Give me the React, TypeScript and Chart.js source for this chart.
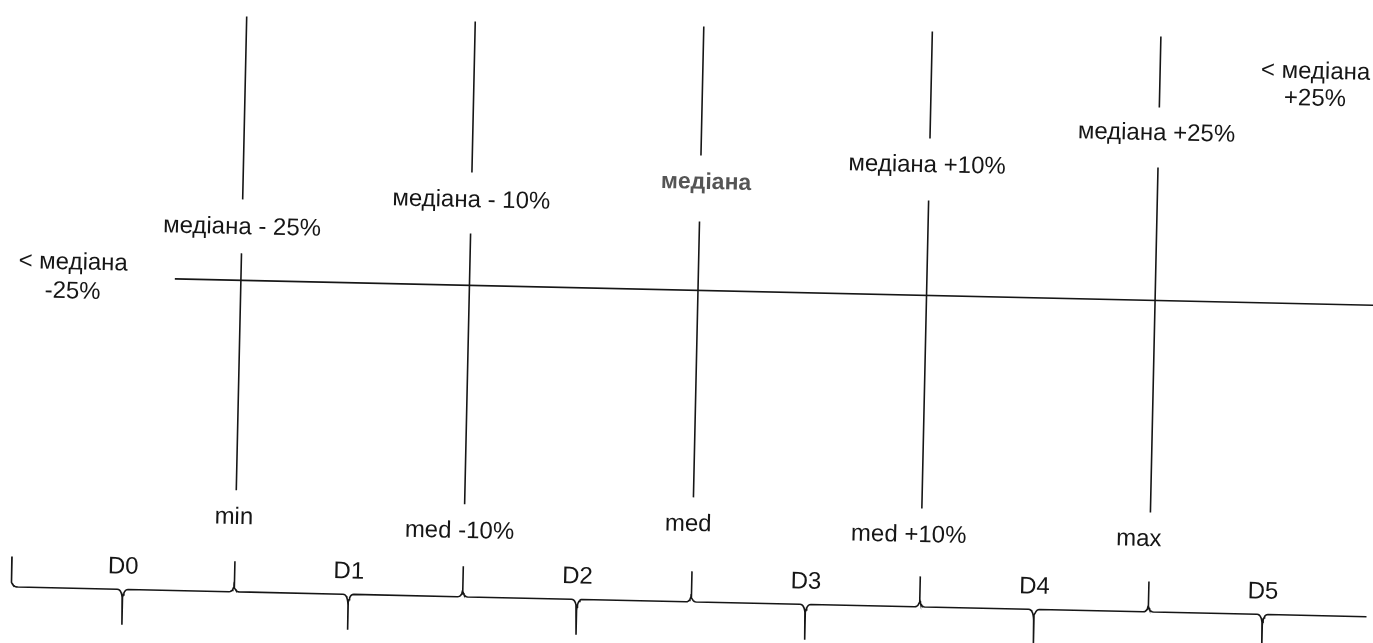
import React, { useEffect, useRef } from "react";
import { Chart, registerables } from "chart.js";

Chart.register(...registerables);

// ---- data ----
const zoneLabels = ["D0", "D1", "D2", "D3", "D4", "D5"];
const boundaryLabels = ["min", "med -10%", "med", "med +10%", "max"];
const boundaryValues = [1, 2, 3, 4, 5];
const levelLabels = ["медіана - 25%", "медіана - 10%", "медіана", "медіана +10%", "медіана +25%"];
const levelValues = [222, 190, 167, 145, 108];
const boundaryLabelLevels = [512, 521, 509, 515, 514];
const lowerOuterLabel = ["< медіана", "-25%"];
const upperOuterLabel = ["< медіана", "+25%"];

// ---- layout / style ----
const TILT = Math.atan(0.022);
const X_MIN = -0.0805;
const X_MAX = 5.9256;
const Y_MAX = 643;
const AXIS_LEVEL = 275;
const AXIS_START = 0.711;
const LINE_TOP = 11;
const GAP_ABOVE = [28, 28, 27, 27, 26];
const GAP_BELOW = [26, 33, 39, 35, 34];
const BOTTOM_GAP = 27;
const LEVEL_LABEL_SHIFT = [0, 0, 0.025, -0.01, -0.01];
const LABEL_SHIFT = [-0.008, -0.02, -0.02, -0.055, -0.048];
const LOWER_OUTER_POS = { x: 0.265, levels: [261, 290] };
const UPPER_OUTER_POS = { x: 5.68, levels: [43, 70] };
const ZONE_LABEL_LEVEL = 564;
const BRACE = { start: 0.025, end: 5.985, base: 586.5, top: 556, tip: 622, cuspW: 0.022, tipW: 0.024, endR: 0.03 };
const INK = "#161616";
const LINE_W = 1.6;
const FONT = '24px "Liberation Sans", Arial, sans-serif';
const FONT_MED = 'bold 23px "Liberation Sans", Arial, sans-serif';

type P = { x: number; y: number };

function quad(p0: P, c: P, p1: P, n = 8): P[] {
  const out: P[] = [];
  for (let i = 1; i <= n; i++) {
    const t = i / n;
    const a = (1 - t) * (1 - t), b = 2 * (1 - t) * t, d = t * t;
    out.push({ x: a * p0.x + b * c.x + d * p1.x, y: a * p0.y + b * c.y + d * p1.y });
  }
  return out;
}

function zoneMid(k: number) {
  return k === 0 ? (BRACE.start + 1) / 2 : k + 0.5;
}

function bracePath(): P[] {
  const { start, end, base, top, tip, cuspW, tipW, endR } = BRACE;
  const pts: P[] = [{ x: start, y: top }, { x: start, y: base - 8 }];
  pts.push(...quad({ x: start, y: base - 8 }, { x: start, y: base }, { x: start + endR, y: base }));
  zoneLabels.forEach((_, k) => {
    const right = k === zoneLabels.length - 1 ? end : k + 1;
    const mid = zoneMid(k);
    pts.push({ x: mid - tipW, y: base });
    pts.push(...quad({ x: mid - tipW, y: base }, { x: mid, y: base }, { x: mid, y: base + 14 }));
    pts.push({ x: mid, y: tip }, { x: mid, y: base + 14 });
    pts.push(...quad({ x: mid, y: base + 14 }, { x: mid, y: base }, { x: mid + tipW, y: base }));
    if (k < zoneLabels.length - 1) {
      pts.push({ x: right - cuspW, y: base });
      pts.push(...quad({ x: right - cuspW, y: base }, { x: right, y: base }, { x: right, y: base - 10 }));
      pts.push({ x: right, y: top }, { x: right, y: base - 10 });
      pts.push(...quad({ x: right, y: base - 10 }, { x: right, y: base }, { x: right + cuspW, y: base }));
    } else {
      pts.push({ x: right - endR, y: base });
      pts.push(...quad({ x: right - endR, y: base }, { x: right, y: base }, { x: right, y: base - 8 }));
      pts.push({ x: right, y: top });
    }
  });
  return pts;
}

const lineDs = (data: P[]) => ({
  data,
  showLine: true,
  borderColor: INK,
  borderWidth: LINE_W,
  pointRadius: 0,
  tension: 0,
  fill: false,
  clip: false as any,
});

const tiltPlugin = {
  id: "scanTilt",
  beforeDatasetsDraw(chart: any) {
    chart.ctx.save();
    chart.ctx.rotate(TILT);
  },
  afterDatasetsDraw(chart: any) {
    const ctx = chart.ctx as CanvasRenderingContext2D;
    const xs = chart.scales.x, ys = chart.scales.y;
    const X = (v: number) => xs.getPixelForValue(v);
    const Y = (v: number) => ys.getPixelForValue(v);
    ctx.textAlign = "center";
    ctx.textBaseline = "middle";
    levelLabels.forEach((t, i) => {
      if (t === "медіана") {
        ctx.font = FONT_MED;
        ctx.fillStyle = "#555555";
      } else {
        ctx.font = FONT;
        ctx.fillStyle = INK;
      }
      ctx.fillText(t, X(boundaryValues[i] + LEVEL_LABEL_SHIFT[i]), Y(levelValues[i]));
    });
    ctx.font = FONT;
    ctx.fillStyle = INK;
    boundaryLabels.forEach((t, i) => {
      ctx.fillText(t, X(boundaryValues[i] + LABEL_SHIFT[i]), Y(boundaryLabelLevels[i]));
    });
    zoneLabels.forEach((t, k) => {
      ctx.fillText(t, X(zoneMid(k)), Y(ZONE_LABEL_LEVEL));
    });
    lowerOuterLabel.forEach((t, i) => ctx.fillText(t, X(LOWER_OUTER_POS.x), Y(LOWER_OUTER_POS.levels[i])));
    upperOuterLabel.forEach((t, i) => ctx.fillText(t, X(UPPER_OUTER_POS.x), Y(UPPER_OUTER_POS.levels[i])));
    ctx.restore();
  },
};

export default function App() {
  const ref = useRef<HTMLCanvasElement | null>(null);
  useEffect(() => {
    if (!ref.current) return;
    const datasets: any[] = [];
    datasets.push(lineDs([{ x: AXIS_START, y: AXIS_LEVEL }, { x: 6.2, y: AXIS_LEVEL }]));
    boundaryValues.forEach((b, i) => {
      datasets.push(lineDs([{ x: b, y: LINE_TOP }, { x: b, y: levelValues[i] - GAP_ABOVE[i] }]));
      datasets.push(lineDs([{ x: b, y: levelValues[i] + GAP_BELOW[i] }, { x: b, y: boundaryLabelLevels[i] - BOTTOM_GAP }]));
    });
    datasets.push(lineDs(bracePath()));
    const chart = new Chart(ref.current, {
      type: "scatter",
      data: { datasets },
      options: {
        animation: false,
        responsive: true,
        maintainAspectRatio: false,
        events: [],
        layout: { padding: 0 },
        scales: {
          x: { type: "linear", min: X_MIN, max: X_MAX, display: false },
          y: { type: "linear", min: 0, max: Y_MAX, reverse: true, display: false },
        },
        plugins: { legend: { display: false }, tooltip: { enabled: false } },
      },
      plugins: [tiltPlugin],
    });
    return () => chart.destroy();
  }, []);
  return (
    <div style={{ position: "fixed", left: 0, top: 0, width: "100vw", height: "100vh", background: "#fff" }}>
      <canvas ref={ref} />
    </div>
  );
}
